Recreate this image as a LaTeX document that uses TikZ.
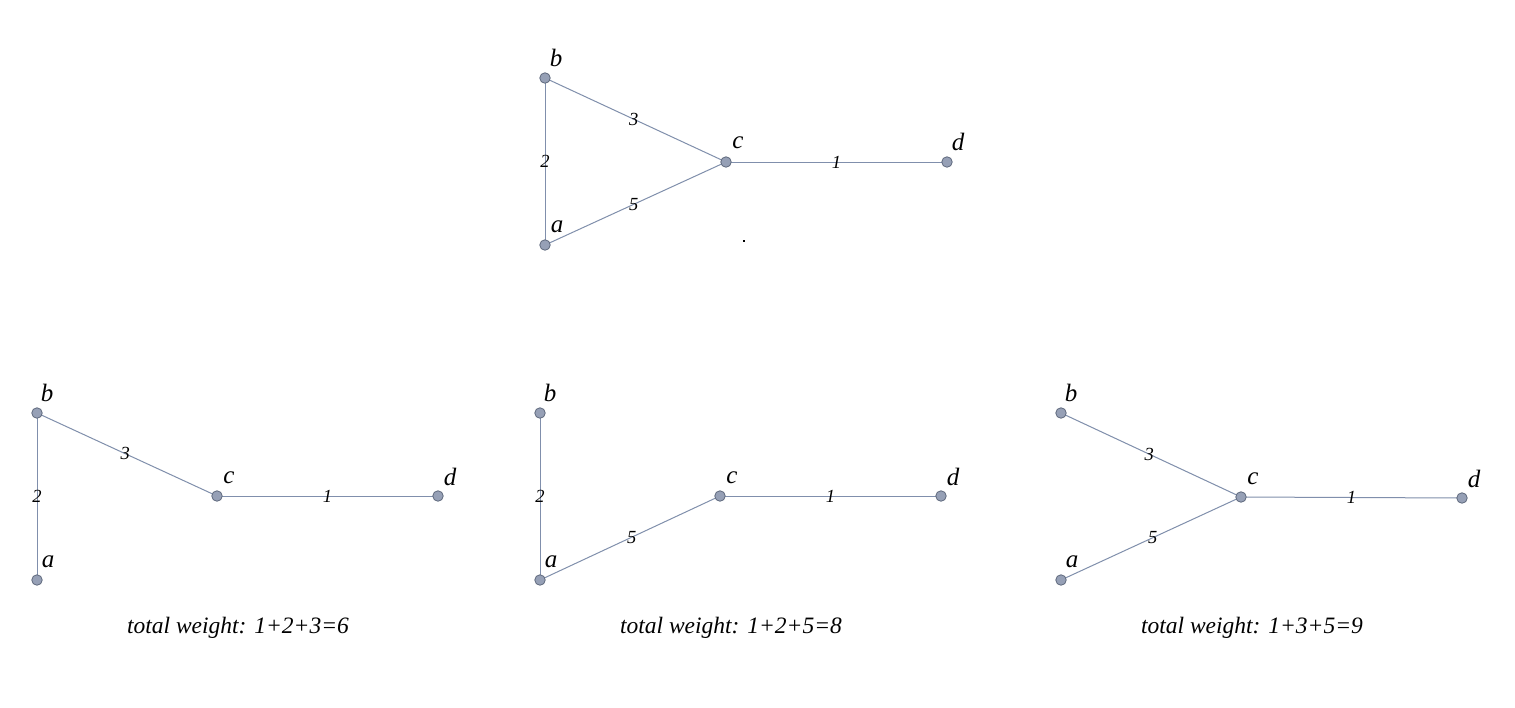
\documentclass[tikz,border=0pt]{standalone}
\usepackage{fontspec}
\setmainfont{Liberation Serif}
\definecolor{edgecol}{RGB}{128,143,172}
\definecolor{vfill}{RGB}{150,160,182}
\definecolor{vdraw}{RGB}{95,105,125}
\tikzset{
  vtx/.style={circle,fill=vfill,draw=vdraw,line width=0.8pt,inner sep=0pt,minimum size=10.5pt},
  edg/.style={draw=edgecol,line width=1pt},
  vlbl/.style={font=\fontsize{25}{27}\selectfont\itshape,inner sep=0pt},
  wlbl/.style={font=\fontsize{18.5}{20}\selectfont\itshape,inner sep=0pt},
  captxt/.style={font=\fontsize{23.5}{26}\selectfont\itshape,inner sep=0pt},
}
\begin{document}
\begin{tikzpicture}[x=1pt,y=-1pt]
\useasboundingbox[fill=white] (0,0) rectangle (1515,707);
% top graph
\begin{scope}[shift={(508,-335)},name prefix=T-]
  \coordinate (b0) at (37,413); \coordinate (a0) at (37,580);
  \coordinate (c0) at (218,497); \coordinate (d0) at (439,497);
  \draw[edg] (b0) -- node[wlbl]{2} (a0);
  \draw[edg] (b0) -- node[wlbl,pos=0.49]{3} (c0);
  \draw[edg] (a0) -- node[wlbl,pos=0.49]{5} (c0);
  \draw[edg] (c0) -- node[wlbl]{1} (d0);
  \node[vtx] (b) at (b0) {}; \node[vtx] (a) at (a0) {};
  \node[vtx] (c) at (c0) {}; \node[vtx] (d) at (d0) {};
  \node[vlbl] (bl) at ([shift={(11,-20)}]b0) {b};
  \node[vlbl] (al) at ([shift={(12,-18)}]a0) {a};
  \node[vlbl] (cl) at ([shift={(12,-19)}]c0) {c};
  \node[vlbl] (dl) at ([shift={(11,-20)}]d0) {d};
\end{scope}
\fill (743,240) rectangle (745,242);
% bottom left
\begin{scope}[name prefix=L-]
  \coordinate (b0) at (37,413); \coordinate (a0) at (37,580);
  \coordinate (c0) at (217,496); \coordinate (d0) at (438,496);
  \draw[edg] (b0) -- node[wlbl]{2} (a0);
  \draw[edg] (b0) -- node[wlbl,pos=0.49]{3} (c0);
  \draw[edg] (c0) -- node[wlbl]{1} (d0);
  \node[vtx] (b) at (b0) {}; \node[vtx] (a) at (a0) {};
  \node[vtx] (c) at (c0) {}; \node[vtx] (d) at (d0) {};
  \node[vlbl] (bl) at ([shift={(10,-20)}]b0) {b};
  \node[vlbl] (al) at ([shift={(11,-18)}]a0) {a};
  \node[vlbl] (cl) at ([shift={(12,-18)}]c0) {c};
  \node[vlbl] (dl) at ([shift={(12,-19)}]d0) {d};
  \node[captxt] (cap) at (238,628) {total weight: 1+2+3=6};
\end{scope}
% bottom middle
\begin{scope}[shift={(503,0)},name prefix=M-]
  \coordinate (b0) at (37,413); \coordinate (a0) at (37,580);
  \coordinate (c0) at (217,496); \coordinate (d0) at (438,496);
  \draw[edg] (b0) -- node[wlbl]{2} (a0);
  \draw[edg] (a0) -- node[wlbl,pos=0.51]{5} (c0);
  \draw[edg] (c0) -- node[wlbl]{1} (d0);
  \node[vtx] (b) at (b0) {}; \node[vtx] (a) at (a0) {};
  \node[vtx] (c) at (c0) {}; \node[vtx] (d) at (d0) {};
  \node[vlbl] (bl) at ([shift={(10,-20)}]b0) {b};
  \node[vlbl] (al) at ([shift={(11,-18)}]a0) {a};
  \node[vlbl] (cl) at ([shift={(12,-18)}]c0) {c};
  \node[vlbl] (dl) at ([shift={(12,-19)}]d0) {d};
  \node[captxt] (cap) at (228,628) {total weight: 1+2+5=8};
\end{scope}
% bottom right
\begin{scope}[shift={(1024,0)},name prefix=R-]
  \coordinate (b0) at (37,413); \coordinate (a0) at (37,580);
  \coordinate (c0) at (217,497); \coordinate (d0) at (438,498);
  \draw[edg] (b0) -- node[wlbl,pos=0.49]{3} (c0);
  \draw[edg] (a0) -- node[wlbl,pos=0.51]{5} (c0);
  \draw[edg] (c0) -- node[wlbl]{1} (d0);
  \node[vtx] (b) at (b0) {}; \node[vtx] (a) at (a0) {};
  \node[vtx] (c) at (c0) {}; \node[vtx] (d) at (d0) {};
  \node[vlbl] (bl) at ([shift={(10,-20)}]b0) {b};
  \node[vlbl] (al) at ([shift={(11,-18)}]a0) {a};
  \node[vlbl] (cl) at ([shift={(12,-18)}]c0) {c};
  \node[vlbl] (dl) at ([shift={(12,-19)}]d0) {d};
  \node[captxt] (cap) at (228,628) {total weight: 1+3+5=9};
\end{scope}
\end{tikzpicture}
\end{document}
